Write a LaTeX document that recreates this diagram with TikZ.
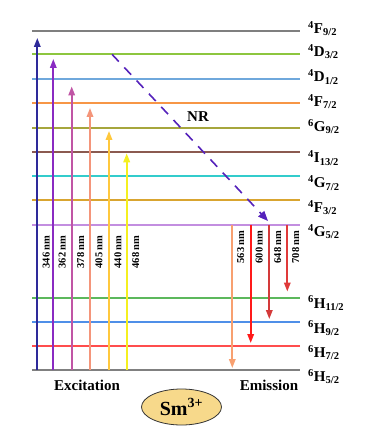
\documentclass[tikz,border=0pt]{standalone}
\usepackage{fontspec}
\setmainfont{Liberation Serif}
\usetikzlibrary{arrows.meta,shapes.geometric}
\definecolor{cF92}{HTML}{7F7F7F}
\definecolor{cD32}{HTML}{8DC63F}
\definecolor{cD12}{HTML}{6FA8DC}
\definecolor{cF72}{HTML}{F79646}
\definecolor{cG92}{HTML}{A6A63C}
\definecolor{cI132}{HTML}{8B5A50}
\definecolor{cG72}{HTML}{33CCCC}
\definecolor{cF32}{HTML}{D9A530}
\definecolor{cG52}{HTML}{C38EE0}
\definecolor{cH112}{HTML}{5CB85C}
\definecolor{cH92}{HTML}{4F8FE8}
\definecolor{cH72}{HTML}{FF4D4D}
\definecolor{cH52}{HTML}{808080}
\definecolor{a346}{HTML}{2E2A9A}
\definecolor{a362}{HTML}{8A2BC2}
\definecolor{a378}{HTML}{C055A5}
\definecolor{a405}{HTML}{F4957A}
\definecolor{a440}{HTML}{FFC83D}
\definecolor{a468}{HTML}{F5F020}
\definecolor{e563}{HTML}{F8A070}
\definecolor{e600}{HTML}{FF1A1A}
\definecolor{e648}{HTML}{D43A3A}
\definecolor{e708}{HTML}{E03A3A}
\definecolor{cNR}{HTML}{5522BB}
\definecolor{smfill}{HTML}{F7D98B}
\tikzset{
  lvl/.style={line width=1.7pt},
  lvllab/.style={font=\fontsize{15}{17}\selectfont\bfseries, inner sep=0pt, anchor=base west},
  trans/.style={line width=1.8pt, -{Triangle[width=6.5pt,length=9pt]}},
  wl/.style={font=\fontsize{10.5}{12}\selectfont\bfseries, rotate=90, inner sep=0pt},
  biglab/.style={font=\fontsize{15}{18}\selectfont\bfseries, inner sep=0pt},
}
\begin{document}
\begin{tikzpicture}[x=1pt,y=-1pt]
\useasboundingbox (0,0) rectangle (366,438);
% levels
\foreach \n/\y/\c/\lab/\off in {
  F92/30.7/cF92/{\textsuperscript{4}F\textsubscript{9/2}}/3,
  D32/54.3/cD32/{\textsuperscript{4}D\textsubscript{3/2}}/2.5,
  D12/79/cD12/{\textsuperscript{4}D\textsubscript{1/2}}/3,
  F72/103.3/cF72/{\textsuperscript{4}F\textsubscript{7/2}}/3.5,
  G92/127.7/cG92/{\textsuperscript{6}G\textsubscript{9/2}}/4,
  I132/152/cI132/{\textsuperscript{4}I\textsubscript{13/2}}/11,
  G72/176/cG72/{\textsuperscript{4}G\textsubscript{7/2}}/12,
  F32/200.3/cF32/{\textsuperscript{4}F\textsubscript{3/2}}/12,
  G52/224.7/cG52/{\textsuperscript{4}G\textsubscript{5/2}}/12,
  H112/297.7/cH112/{\textsuperscript{6}H\textsubscript{11/2}}/10.5,
  H92/322/cH92/{\textsuperscript{6}H\textsubscript{9/2}}/11,
  H72/346.3/cH72/{\textsuperscript{6}H\textsubscript{7/2}}/11,
  H52/370.3/cH52/{\textsuperscript{6}H\textsubscript{5/2}}/11.5}
{
  \draw[lvl,\c] (32,\y) coordinate (\n-l) -- (300,\y) coordinate (\n-r);
  \node[lvllab] (lab\n) at (308,{\y+\off}) {\lab};
}
% excitation
\foreach \w/\x/\t in {346/37.3/38, 362/53.3/59, 378/71.7/86.5, 405/90/108, 440/109/131, 468/126.7/153.3}
{
  \coordinate (xs\w) at (\x,370.3);
  \coordinate (xe\w) at (\x,\t);
  \draw[trans,a\w] (xs\w) -- (xe\w);
  \node[wl] (xl\w) at ({\x+9},252) {\w\ nm};
}
% emission
\foreach \w/\x/\t in {563/232.3/368, 600/250.7/343, 648/269.3/319, 708/287.3/291.5}
{
  \coordinate (es\w) at (\x,224.7);
  \coordinate (ee\w) at (\x,\t);
  \draw[trans,e\w] (es\w) -- (ee\w);
  \node[wl] (el\w) at ({\x+8.5},247) {\w\ nm};
}
% non-radiative
\coordinate (nrs) at (112,54.3);
\coordinate (nre) at (268,221);
\draw[cNR, line width=1.6pt, dash pattern=on 10pt off 8pt, -{Triangle[width=8pt,length=10pt]}] (nrs) -- (nre);
\node[biglab] (nr) at (198,117) {NR};
% labels
\node[biglab] (exc) at (87,385) {Excitation};
\node[biglab] (emi) at (269,385) {Emission};
\node[ellipse, draw=black!80, line width=0.8pt, fill=smfill, minimum width=80pt, minimum height=36pt, inner sep=0pt,
  font=\fontsize{20}{22}\selectfont\bfseries] (sm) at (181.5,407) {Sm\textsuperscript{3+}};
\end{tikzpicture}
\end{document}
